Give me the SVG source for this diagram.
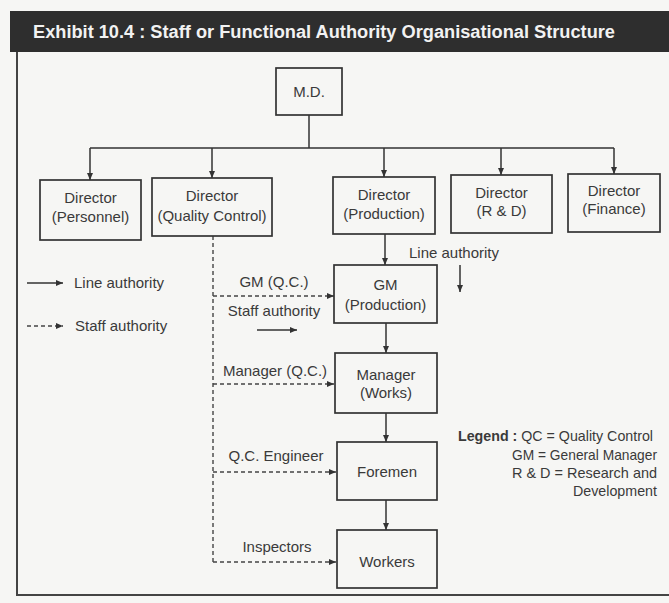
<svg xmlns="http://www.w3.org/2000/svg" width="669" height="603" viewBox="0 0 669 603">
  <style>
    .box { fill: none; stroke: #333; stroke-width: 1.7; }
    .t { font-family: "Liberation Sans", Arial, sans-serif; font-size: 15px; fill: #3a3a3a; }
    .c { text-anchor: middle; }
    .line { fill: none; stroke: #333; stroke-width: 1.5; }
    .staff { fill: none; stroke: #444; stroke-width: 1.4; stroke-dasharray: 4 3; }
    .frame { fill: none; stroke: #444; stroke-width: 2; }
  </style>
  <defs>
    <marker id="arrow" markerUnits="userSpaceOnUse" markerWidth="8" markerHeight="7" refX="7" refY="3" orient="auto">
      <path d="M0,0 L7,3 L0,6 z" fill="#333"/>
    </marker>
  </defs>

  <!-- paper -->
  <rect width="669" height="603" fill="#f6f6f4"/>

  <!-- heading band -->
  <rect x="10" y="11" width="659" height="41" fill="#2e2e2e"/>
  <text x="33" y="38" font-family="Liberation Sans, Arial, sans-serif" font-size="18" font-weight="bold" fill="#f2f2f2" textLength="582" lengthAdjust="spacingAndGlyphs">Exhibit 10.4 : Staff or Functional Authority Organisational Structure</text>

  <!-- frame -->
  <path class="frame" d="M17,52 V595 H669"/>

  <!-- connectors -->
  <g id="connectors">
    <path class="line" d="M309,115 V148 M90,148 H614"/>
    <path class="line" d="M90,148 V180" marker-end="url(#arrow)"/>
    <path class="line" d="M212,148 V178" marker-end="url(#arrow)"/>
    <path class="line" d="M384,148 V177" marker-end="url(#arrow)"/>
    <path class="line" d="M501,148 V175" marker-end="url(#arrow)"/>
    <path class="line" d="M614,148 V174" marker-end="url(#arrow)"/>

    <path class="line" d="M385,234 V265" marker-end="url(#arrow)"/>
    <path class="line" d="M386,323 V353" marker-end="url(#arrow)"/>
    <path class="line" d="M386,413 V442" marker-end="url(#arrow)"/>
    <path class="line" d="M386,500 V530" marker-end="url(#arrow)"/>

    <path class="staff" d="M213,236 V562"/>
    <path class="staff" d="M213,296 H334" marker-end="url(#arrow)"/>
    <path class="staff" d="M213,384 H334" marker-end="url(#arrow)"/>
    <path class="staff" d="M213,472 H336" marker-end="url(#arrow)"/>
    <path class="staff" d="M213,562 H336" marker-end="url(#arrow)"/>

    <!-- inline hints -->
    <path class="line" d="M257,330 H297" marker-end="url(#arrow)"/>
    <path class="line" d="M460,265 V292" marker-end="url(#arrow)"/>
  </g>

  <!-- nodes -->
  <g id="md">
    <rect class="box" x="276" y="68" width="66" height="47"/>
    <text class="t c" x="309" y="97">M.D.</text>
  </g>
  <g id="dir-personnel">
    <rect class="box" x="40" y="180" width="101" height="60"/>
    <text class="t c" x="90.5" y="203">Director</text>
    <text class="t c" x="90.5" y="222">(Personnel)</text>
  </g>
  <g id="dir-qc">
    <rect class="box" x="152" y="178" width="120" height="58"/>
    <text class="t c" x="212" y="201">Director</text>
    <text class="t c" x="212" y="221">(Quality Control)</text>
  </g>
  <g id="dir-production">
    <rect class="box" x="333" y="177" width="102" height="57"/>
    <text class="t c" x="384" y="200">Director</text>
    <text class="t c" x="384" y="219">(Production)</text>
  </g>
  <g id="dir-rd">
    <rect class="box" x="451" y="175" width="101" height="58"/>
    <text class="t c" x="501.5" y="198">Director</text>
    <text class="t c" x="501.5" y="216">(R &amp; D)</text>
  </g>
  <g id="dir-finance">
    <rect class="box" x="568" y="174" width="92" height="58"/>
    <text class="t c" x="614" y="196">Director</text>
    <text class="t c" x="614" y="214">(Finance)</text>
  </g>
  <g id="gm-production">
    <rect class="box" x="334" y="265" width="103" height="58"/>
    <text class="t c" x="385.5" y="290">GM</text>
    <text class="t c" x="385.5" y="310">(Production)</text>
  </g>
  <g id="manager-works">
    <rect class="box" x="335" y="353" width="102" height="60"/>
    <text class="t c" x="386" y="380">Manager</text>
    <text class="t c" x="386" y="398">(Works)</text>
  </g>
  <g id="foremen">
    <rect class="box" x="337" y="442" width="100" height="58"/>
    <text class="t c" x="387" y="477">Foremen</text>
  </g>
  <g id="workers">
    <rect class="box" x="337" y="530" width="100" height="58"/>
    <text class="t c" x="387" y="567">Workers</text>
  </g>

  <!-- staff labels -->
  <g id="staff-labels">
    <text class="t c" x="274" y="287">GM (Q.C.)</text>
    <text class="t c" x="274" y="316">Staff authority</text>
    <text class="t c" x="275" y="376">Manager (Q.C.)</text>
    <text class="t c" x="276" y="461">Q.C. Engineer</text>
    <text class="t c" x="277" y="552">Inspectors</text>
    <text class="t c" x="454" y="258">Line authority</text>
  </g>

  <!-- key -->
  <g id="key">
    <path class="line" d="M27,283 H63" marker-end="url(#arrow)"/>
    <text class="t" x="74" y="288">Line authority</text>
    <path class="staff" d="M27,326 H63" marker-end="url(#arrow)"/>
    <text class="t" x="75" y="331">Staff authority</text>
  </g>

  <!-- abbreviations -->
  <g id="legend">
    <text class="t" x="458" y="441" textLength="195" lengthAdjust="spacingAndGlyphs"><tspan font-weight="bold">Legend :</tspan> QC = Quality Control</text>
    <text class="t" x="512" y="460" textLength="145" lengthAdjust="spacingAndGlyphs">GM = General Manager</text>
    <text class="t" x="512" y="478" textLength="145" lengthAdjust="spacingAndGlyphs">R &amp; D = Research and</text>
    <text class="t" x="573" y="496" textLength="84" lengthAdjust="spacingAndGlyphs">Development</text>
  </g>
</svg>
